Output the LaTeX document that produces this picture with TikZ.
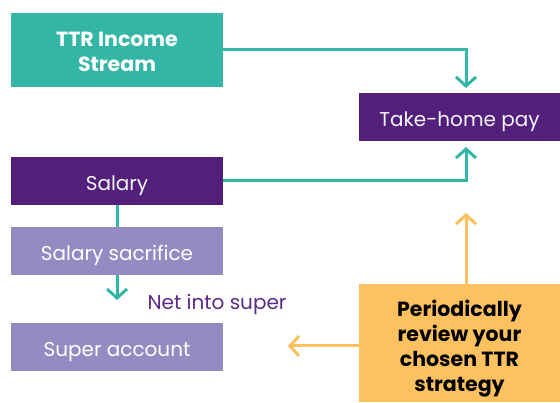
\documentclass[tikz,border=0pt]{standalone}
\usepackage{fontspec}
\setmainfont{Poppins}
\usepackage{xcolor}
\usepackage{tikz}
\usetikzlibrary{arrows.meta,positioning,calc}

\definecolor{ttrteal}{HTML}{33B6A6}
\definecolor{ttrpurple}{HTML}{52207B}
\definecolor{ttrlilac}{HTML}{958BC2}
\definecolor{ttrorange}{HTML}{FDC25F}
\definecolor{ttrtext}{HTML}{5A2A86}

\begin{document}
\begin{tikzpicture}[x=1pt, y=1pt, >={Straight Barb[length=9pt,width=20pt]}]
    \tikzstyle{block} = [rectangle, inner sep=0pt, minimum width=212pt, minimum height=48pt, text height=19pt, text depth=0pt, font=\fontsize{20}{25}\selectfont]
    \tikzstyle{bold block} = [rectangle, inner sep=0pt, minimum width=212pt, align=center, font=\fontsize{20.5}{25}\selectfont\bfseries]
    \tikzstyle{flow} = [draw=ttrteal, line width=3pt, ->]
    \tikzstyle{review} = [draw=ttrorange, line width=3pt, ->]

    \useasboundingbox (0,0) rectangle (560,402);

    \node [bold block, fill=ttrteal, text=white, minimum height=74pt] (income) at (117,352) {\rule{0pt}{19pt}TTR Income\\Stream};
    \node [block, fill=ttrpurple, text=white!90!ttrlilac] (salary) at (117,221) {Salary};
    \node [block, fill=ttrlilac, text=white] (sacrifice) at (117,151) {Salary sacrifice};
    \node [block, fill=ttrlilac, text=white] (super) at (117,55) {Super account};
    \node [block, fill=ttrpurple, text=white!90!ttrlilac, minimum width=201pt] (takehome) at (459.5,285) {Take-home pay};
    \node [bold block, fill=ttrorange, text=black, minimum width=201pt, minimum height=118pt] (strategy) at (459.5,59) {\rule{0pt}{28pt}Periodically\\review your\\chosen TTR\\strategy};
    \node [font=\fontsize{20}{24}\selectfont, text=ttrtext, text height=19pt, text depth=0pt, inner sep=0pt] (net) at (217,102) {Net into super};

    \coordinate (pay in) at (466,314);
    \coordinate (pay up) at (466,255);
    \coordinate (super in) at (117,102);
    \coordinate (review up) at (466,189);
    \coordinate (review left) at (288,56);

    % income and salary into take-home pay
    \draw [flow] (income.east) -| (pay in);
    \draw [flow] (salary.east) -| (pay up);
    \draw [flow, -] (salary.south) -- (sacrifice.north);
    \draw [flow] (sacrifice.south) -- (super in);

    % review arrows
    \draw [review] (strategy.north -| pay up) -- (review up);
    \draw [review] (strategy.west |- review left) -- (review left);
\end{tikzpicture}
\end{document}
